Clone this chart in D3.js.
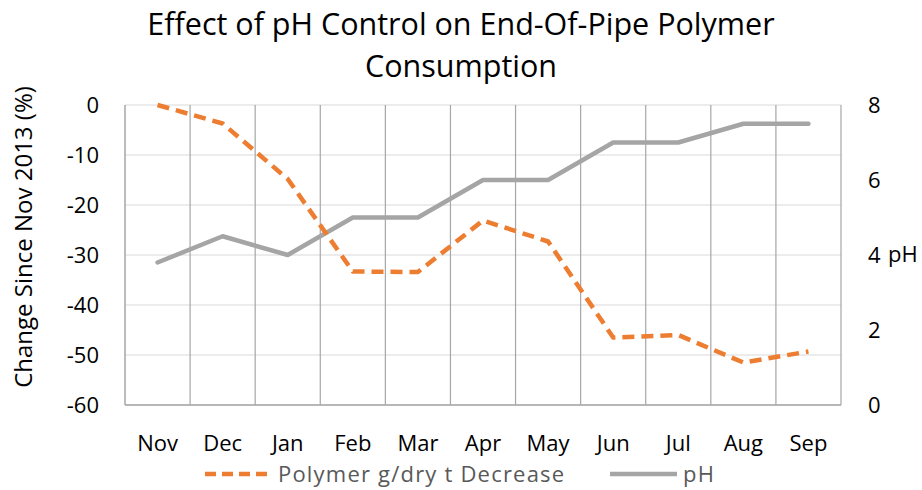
<!DOCTYPE html>
<html>
<head>
<meta charset="utf-8">
<script src="https://cdn.jsdelivr.net/npm/d3@7"></script>
<style>
  html, body { margin: 0; padding: 0; background: #fff; }
  svg { display: block; font-family: "Open Sans", sans-serif; }
</style>
</head>
<body>
<svg width="922" height="490"></svg>
<script>
const months = ['Nov', 'Dec', 'Jan', 'Feb', 'Mar', 'Apr', 'May', 'Jun', 'Jul', 'Aug', 'Sep'];
const polymerDecrease = [0, -3.7, -14.8, -33.3, -33.4, -23.1, -27.3, -46.5, -46.0, -51.5, -49.3];
const phValues = [3.8, 4.5, 4.0, 5.0, 5.0, 6.0, 6.0, 7.0, 7.0, 7.5, 7.5];
const leftTicks = [0, -10, -20, -30, -40, -50, -60];
const rightTicks = [0, 2, 4, 6, 8];

const svg = d3.select('svg');
const margin = { top: 105, right: 81, bottom: 85, left: 125 };
const width = 922 - margin.left - margin.right;
const height = 490 - margin.top - margin.bottom;
const font = '"Open Sans", sans-serif';

const x = d3.scaleBand().domain(months).range([0, width]);
const yLeft = d3.scaleLinear().domain([-60, 0]).range([height, 0]);
const yRight = d3.scaleLinear().domain([0, 8]).range([height, 0]);

// title
svg.append('text')
  .attr('x', 461).attr('y', 35)
  .attr('text-anchor', 'middle')
  .attr('font-size', 30.5)
  .attr('fill', '#000')
  .selectAll('tspan')
  .data(['Effect of pH Control on End-Of-Pipe Polymer', 'Consumption'])
  .join('tspan')
    .attr('x', 461)
    .attr('dy', (d, i) => i ? 42 : 0)
    .text(d => d);

const g = svg.append('g')
  .attr('transform', 'translate(' + margin.left + ',' + margin.top + ')');

// horizontal gridlines
g.append('g')
  .attr('class', 'grid-h')
  .selectAll('line')
  .data(leftTicks)
  .join('line')
    .attr('x1', 0).attr('x2', width)
    .attr('y1', d => yLeft(d)).attr('y2', d => yLeft(d))
    .attr('stroke', '#d9d9d9')
    .attr('stroke-width', 1.2);

// vertical gridlines between categories
g.append('g')
  .attr('class', 'grid-v')
  .selectAll('line')
  .data(months.slice(1).map(m => x(m)).concat([width]))
  .join('line')
    .attr('x1', d => d).attr('x2', d => d)
    .attr('y1', 0).attr('y2', height)
    .attr('stroke', '#a6a6a6')
    .attr('stroke-width', 1.2);

// left and bottom axis lines
g.append('line')
  .attr('x1', 0).attr('x2', 0).attr('y1', 0).attr('y2', height)
  .attr('stroke', '#a6a6a6').attr('stroke-width', 1.5);
g.append('line')
  .attr('x1', 0).attr('x2', width).attr('y1', height).attr('y2', height)
  .attr('stroke', '#a6a6a6').attr('stroke-width', 1.5);

// left axis (plain hyphen minus like the original)
const leftAxis = g.append('g')
  .call(d3.axisLeft(yLeft).tickValues(leftTicks).tickFormat(d => String(d)).tickSize(0).tickPadding(26));
leftAxis.select('.domain').remove();
leftAxis.selectAll('text')
  .attr('font-family', font)
  .attr('font-size', 22)
  .attr('fill', '#000');

// right axis
const rightAxis = g.append('g')
  .attr('transform', 'translate(' + width + ',0)')
  .call(d3.axisRight(yRight).tickValues(rightTicks).tickSize(0).tickPadding(27));
rightAxis.select('.domain').remove();
rightAxis.selectAll('text')
  .attr('font-family', font)
  .attr('font-size', 22)
  .attr('fill', '#000');

// bottom axis
const bottomAxis = g.append('g')
  .attr('transform', 'translate(0,' + height + ')')
  .call(d3.axisBottom(x).tickSize(0).tickPadding(30));
bottomAxis.select('.domain').remove();
bottomAxis.selectAll('text')
  .attr('font-family', font)
  .attr('font-size', 22)
  .attr('fill', '#000');

// axis titles
svg.append('text')
  .attr('transform', 'translate(32,237) rotate(-90)')
  .attr('text-anchor', 'middle')
  .attr('font-size', 24)
  .attr('fill', '#000')
  .text('Change Since Nov 2013 (%)');

svg.append('text')
  .attr('x', margin.left + width + 47)
  .attr('y', margin.top + yRight(4))
  .attr('dy', '0.34em')
  .attr('font-size', 22)
  .attr('fill', '#000')
  .text('pH');

// lines
const cx = m => x(m) + x.bandwidth() / 2;

const phLine = d3.line()
  .x((d, i) => cx(months[i]))
  .y(d => yRight(d));

const polyLine = d3.line()
  .x((d, i) => cx(months[i]))
  .y(d => yLeft(d));

g.append('path')
  .datum(phValues)
  .attr('d', phLine)
  .attr('fill', 'none')
  .attr('stroke', '#a5a5a5')
  .attr('stroke-width', 4.5)
  .attr('stroke-linejoin', 'round')
  .attr('stroke-linecap', 'round');

g.append('path')
  .datum(polymerDecrease)
  .attr('d', polyLine)
  .attr('fill', 'none')
  .attr('stroke', '#ed7d31')
  .attr('stroke-width', 4.5)
  .attr('stroke-dasharray', '12,7')
  .attr('stroke-linejoin', 'round');

// legend
const legend = svg.append('g').attr('transform', 'translate(0,474)');
const legendItems = [
  { label: 'Polymer g/dry t Decrease', color: '#ed7d31', dash: '11,6', x: 205 },
  { label: 'pH', color: '#a5a5a5', dash: null, x: 610 }
];
const item = legend.selectAll('g')
  .data(legendItems)
  .join('g')
    .attr('transform', d => 'translate(' + d.x + ',0)');
item.append('line')
  .attr('x1', 0).attr('x2', 67)
  .attr('stroke', d => d.color)
  .attr('stroke-width', 4.5)
  .attr('stroke-dasharray', d => d.dash);
item.append('text')
  .attr('x', 73)
  .attr('dy', '0.35em')
  .attr('font-size', 22)
  .attr('letter-spacing', 1.2)
  .attr('fill', '#595959')
  .text(d => d.label);
</script>
</body>
</html>
